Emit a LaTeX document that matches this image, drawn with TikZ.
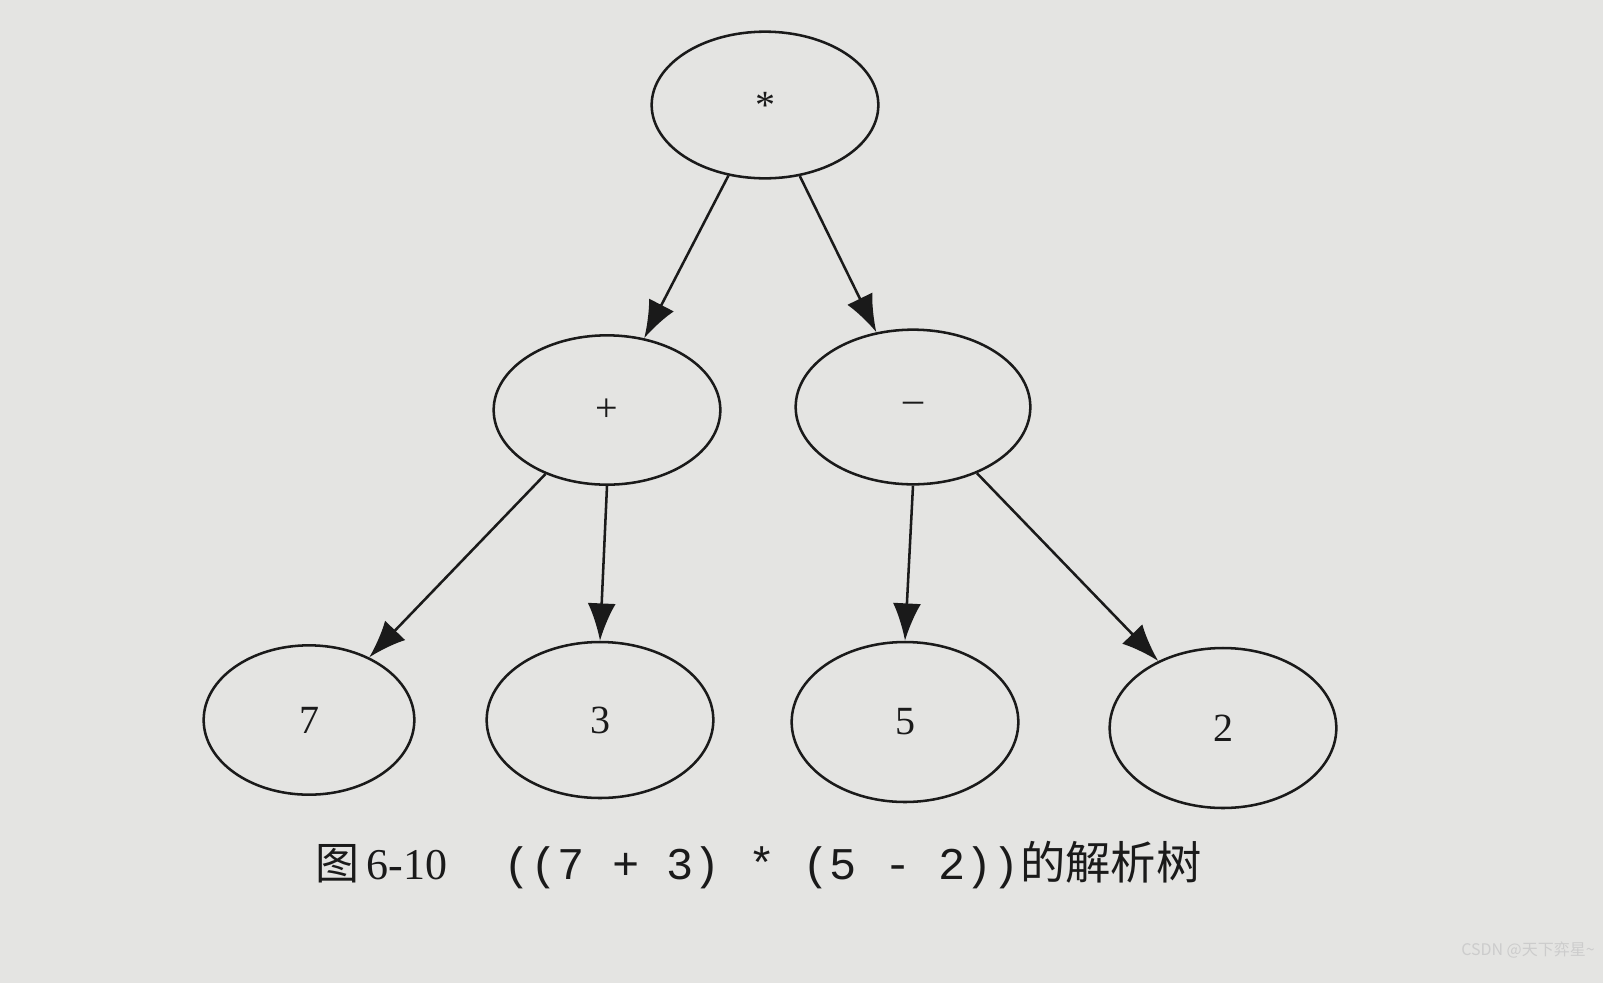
\documentclass[tikz,border=0pt]{standalone}
\usepackage{fontspec}
\setmainfont{Liberation Serif}
\setmonofont{Liberation Mono}
\newfontfamily\cjk{Noto Sans CJK SC}
\usetikzlibrary{arrows.meta,shapes.geometric}
\definecolor{paper}{HTML}{E4E4E2}
\definecolor{ink}{HTML}{1A1A1A}
\tikzset{
  tn/.style={ellipse,draw=ink,line width=1.9pt,inner sep=0pt,font=\fontsize{30}{34}\selectfont,text=ink},
  edge/.style={draw=ink,line width=1.9pt,-{Latex[length=28pt,width=21pt]}}
}
\begin{document}
\begin{tikzpicture}[x=0.75pt,y=-0.75pt]
\fill[paper] (0,0) rectangle (1603,983);
\useasboundingbox (0,0) rectangle (1603,983);
\node[tn,minimum width=170pt,minimum height=110pt] (m) at (765,105) {*};
\node[tn,minimum width=170pt,minimum height=112pt] (p) at (607,410) {+};
\node[tn,minimum width=176pt,minimum height=116pt] (s) at (913,407) {–};
\node[tn,minimum width=158pt,minimum height=112pt] (a) at (309,720) {7};
\node[tn,minimum width=170pt,minimum height=117pt] (b) at (600,720) {3};
\node[tn,minimum width=170pt,minimum height=120pt] (c) at (905,722) {5};
\node[tn,minimum width=170pt,minimum height=120pt] (d) at (1223,728) {2};
\draw[edge] (m) -- (p);
\draw[edge] (m) -- (s);
\draw[edge] (p) -- (a);
\draw[edge] (p.south) -- (b.north);
\draw[edge] (s.south) -- (c.north);
\draw[edge] (s) -- (d);
\node[anchor=west,text=ink,inner sep=0pt] (cap) at (315,865)
  {{\cjk\fontsize{33}{36}\selectfont 图}{\fontsize{33}{36}\selectfont\,6-10}\hspace{42pt}{\ttfamily\fontsize{34}{38}\selectfont ((7 + 3) * (5 - 2))}{\cjk\fontsize{34}{38}\selectfont 的解析树}};
\node[anchor=east,text=white!60!gray,inner sep=0pt] (wm) at (1595,950) {\cjk\fontsize{12}{14}\selectfont CSDN @天下弈星\textasciitilde};
\end{tikzpicture}
\end{document}
